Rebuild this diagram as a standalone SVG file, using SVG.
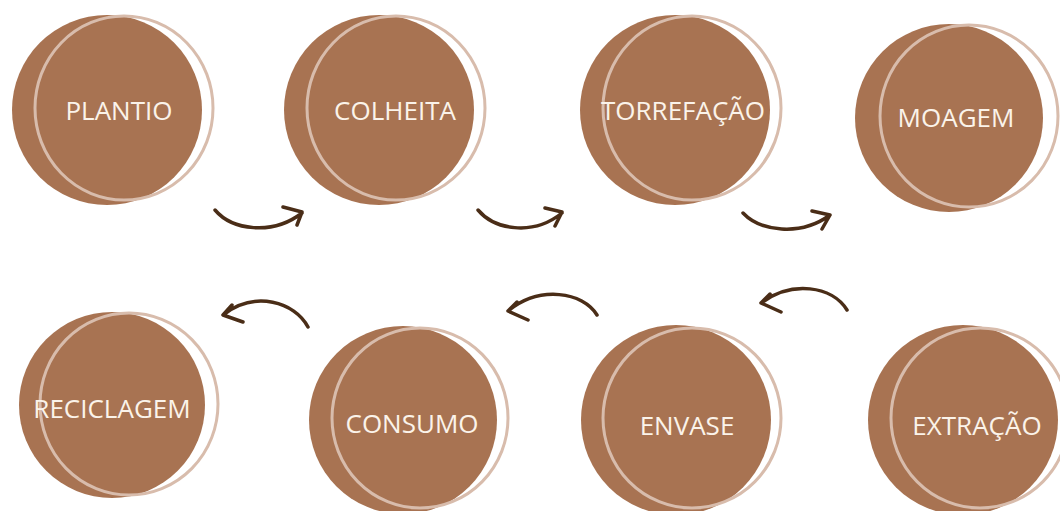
<svg xmlns="http://www.w3.org/2000/svg" width="1060" height="511" viewBox="0 0 1060 511">
<style>
.disc{fill:#a87352;}
.ring{fill:none;stroke:#d8bcac;stroke-width:3;}
.lbl{font-family:"Open Sans","Noto Sans",sans-serif;font-size:26px;fill:#fbf3ea;text-anchor:middle;}
.arr{fill:none;stroke:#4a2d17;stroke-width:3.5;stroke-linecap:round;stroke-linejoin:round;}
</style>
<rect width="1060" height="511" fill="#ffffff"/>
<g id="plantio"><circle class="disc" cx="107" cy="110" r="95"/><ellipse class="ring" cx="124" cy="108" rx="89" ry="92"/><text class="lbl" x="119" y="120">PLANTIO</text></g>
<g id="colheita"><circle class="disc" cx="379" cy="110" r="95"/><ellipse class="ring" cx="396" cy="108" rx="89" ry="92"/><text class="lbl" x="395" y="120">COLHEITA</text></g>
<g id="torrefacao"><circle class="disc" cx="675" cy="110" r="95"/><ellipse class="ring" cx="692" cy="108" rx="89" ry="92"/><text class="lbl" x="683" y="120">TORREFAÇÃO</text></g>
<g id="moagem"><circle class="disc" cx="949" cy="118" r="94"/><ellipse class="ring" cx="969" cy="116" rx="89" ry="91"/><text class="lbl" x="956" y="127">MOAGEM</text></g>
<g id="reciclagem"><circle class="disc" cx="112" cy="405" r="93"/><ellipse class="ring" cx="129" cy="404" rx="89" ry="91"/><text class="lbl" x="112" y="418">RECICLAGEM</text></g>
<g id="consumo"><circle class="disc" cx="403" cy="420" r="94"/><ellipse class="ring" cx="420" cy="418" rx="88" ry="90"/><text class="lbl" x="412" y="433">CONSUMO</text></g>
<g id="envase"><circle class="disc" cx="676" cy="420" r="95"/><ellipse class="ring" cx="692" cy="418" rx="89" ry="90"/><text class="lbl" x="687" y="435">ENVASE</text></g>
<g id="extracao"><circle class="disc" cx="963" cy="420" r="95"/><ellipse class="ring" cx="980" cy="418" rx="89" ry="90"/><text class="lbl" x="977" y="435">EXTRAÇÃO</text></g>
<g id="connectors">
<path class="arr" d="M215,210 C232,230 272,236 302,213 M283,207 L302,212 L297,225"/>
<path class="arr" d="M478,210 C494,229 532,237 562,213 M545,208 L562,212 L555,226"/>
<path class="arr" d="M743,213 C760,231 800,237 830,215 M812,211 L830,215 L822,229"/>
<path class="arr" d="M847,310 C832,286 792,280 761,303 M770,294 L761,303 L781,312"/>
<path class="arr" d="M597,315 C583,292 540,285 508,311 M517,302 L508,311 L528,320"/>
<path class="arr" d="M308,327 C295,302 255,290 223,315 M232,305 L223,315 L243,322"/>
</g>
</svg>
